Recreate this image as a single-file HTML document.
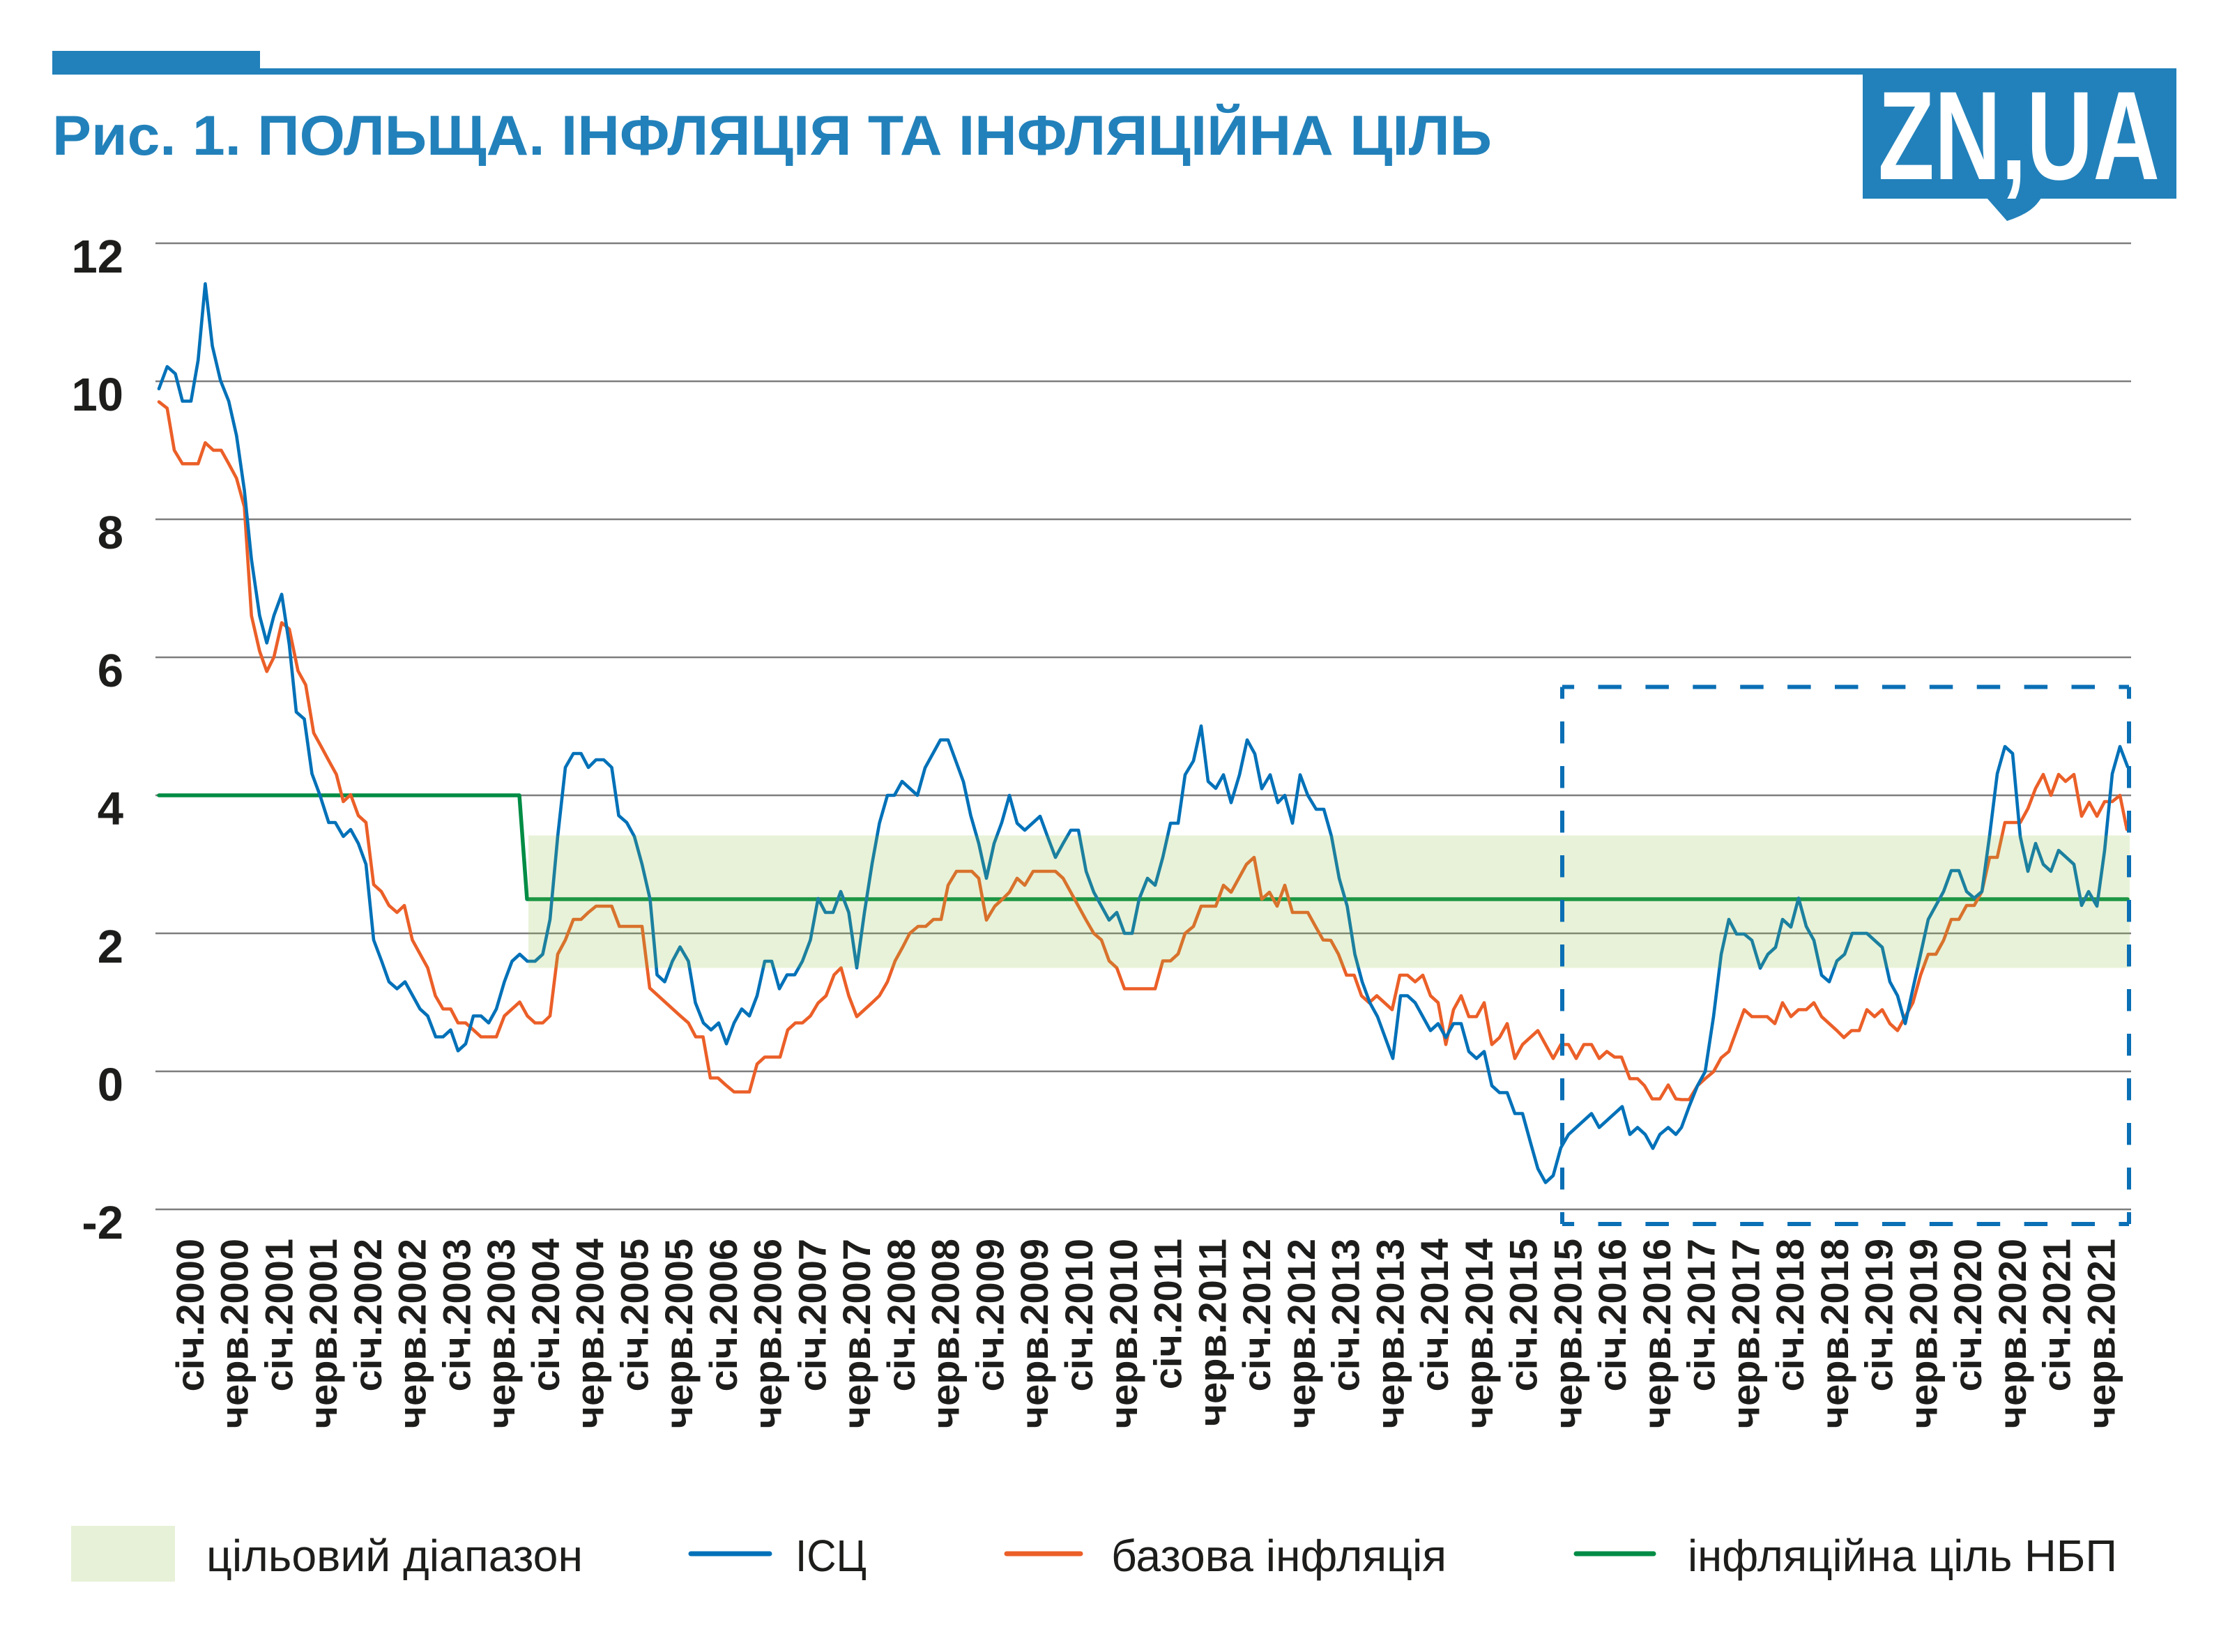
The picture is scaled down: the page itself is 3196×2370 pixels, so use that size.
<!DOCTYPE html>
<html><head><meta charset="utf-8"><style>
html,body{margin:0;padding:0;background:#fff;}
svg{display:block;}
</style></head><body>
<svg width="3196" height="2370" viewBox="0 0 3196 2370" xmlns="http://www.w3.org/2000/svg">
<rect x="0" y="0" width="3196" height="2370" fill="#ffffff"/>
<!-- header bar -->
<rect x="75" y="73" width="298" height="34" fill="#2281ba"/>
<rect x="373" y="98" width="2749" height="9" fill="#2281ba"/>
<!-- logo -->
<rect x="2672" y="98" width="450" height="187" fill="#2281ba"/>
<path d="M2850,284 L2879,317 C2905,308 2918,300 2928,284 Z" fill="#2281ba"/>
<text x="2694" y="257" font-family="Liberation Sans, sans-serif" font-weight="bold" font-size="181" fill="#ffffff" textLength="404" lengthAdjust="spacingAndGlyphs">ZN,UA</text>
<!-- title -->
<text x="75" y="222" font-family="Liberation Sans, 'Noto Sans CJK SC', sans-serif" font-weight="bold" font-size="81" fill="#2281ba" textLength="2065" lengthAdjust="spacingAndGlyphs">Рис. 1. ПОЛЬЩА. ІНФЛЯЦІЯ ТА ІНФЛЯЦІЙНА ЦІЛЬ</text>

<!-- gridlines -->
<g stroke="#7d7d7d" stroke-width="2.5">
<line x1="223" y1="349" x2="3057" y2="349"/>
<line x1="223" y1="547" x2="3057" y2="547"/>
<line x1="223" y1="745" x2="3057" y2="745"/>
<line x1="223" y1="943" x2="3057" y2="943"/>
<line x1="223" y1="1141" x2="3057" y2="1141"/>
<line x1="223" y1="1339" x2="3057" y2="1339"/>
<line x1="223" y1="1537" x2="3057" y2="1537"/>
<line x1="223" y1="1735" x2="3057" y2="1735"/>
</g>
<!-- y labels -->
<g font-family="Liberation Sans, sans-serif" font-weight="bold" font-size="67" fill="#1d1d1b" text-anchor="end">
<text x="177" y="391">12</text>
<text x="177" y="589">10</text>
<text x="177" y="787">8</text>
<text x="177" y="985">6</text>
<text x="177" y="1183">4</text>
<text x="177" y="1381">2</text>
<text x="177" y="1579">0</text>
<text x="177" y="1777">-2</text>
</g>

<!-- series -->
<g fill="none" stroke-linejoin="round" stroke-linecap="round">
<polyline stroke="#008c45" stroke-width="5.5" points="228,1141 745,1141 756,1290 3052,1290"/>
<polyline stroke="#eb5f28" stroke-width="4.6" points="228,576.5 239.8,585.7 250,645.9 261.7,665.3 274,665.3 284.2,665.3 294.4,635.2 306.1,645.9 317.3,645.9 328.1,665.3 339.3,686.2 350.5,727 360.7,883.2 372.4,934.2 382.7,963.3 392.9,942.9 404.1,893.4 415,902.5 427.5,962.5 438.5,982.5 450,1051.5 461,1071.5 471.5,1091 482.5,1111 492.5,1150 503,1140 514,1170 525,1180 536,1269 547,1279 558,1299 569.5,1309 580,1299 591.5,1348.5 602.5,1368.5 613.5,1388.5 624.5,1428.5 635.5,1447.5 646.5,1447.5 657,1467.5 668,1467.5 679,1477.5 690,1487.5 701,1487.5 712,1487.5 723.5,1457.5 734.5,1447.5 745.5,1437.5 756.5,1457.5 767.5,1467.5 778.5,1467.5 789,1457.5 800,1369 811,1348.5 822.5,1319 833.5,1319 844,1309 855,1300 866,1300 877.5,1300 888.5,1329 899,1329 910,1329 921,1329 932,1417.5 943,1427.5 954,1437.5 965,1447.5 976,1457.5 987.5,1467.5 998,1487.5 1008.5,1487.5 1019,1546.5 1030,1546.5 1041,1556.5 1053,1566.5 1064,1566.5 1075,1566.5 1086,1526.5 1097,1516.5 1108,1516.5 1119,1516.5 1130,1477.5 1141,1467.5 1151,1467.5 1162.5,1457.5 1173.5,1439 1185,1428.5 1196.5,1398.5 1206.5,1388.5 1217.5,1428.5 1229,1458.5 1240,1448.5 1251,1438.5 1261.5,1428.5 1273,1408.5 1284,1378.5 1295,1358.5 1305,1339 1317,1329 1328,1329 1339,1319 1350,1319 1360,1270 1372,1250 1383,1250 1394,1250 1404,1260 1415,1320 1427,1300 1438,1290 1448,1280 1459,1260 1470,1270 1482,1250 1493,1250 1504,1250 1514,1250 1525,1260 1536,1280 1547,1300 1558,1320 1569,1339 1580,1348.5 1591,1378.5 1602,1388.5 1613,1418.5 1624,1418.5 1635,1418.5 1646,1418.5 1657,1418.5 1668,1378.5 1679,1378.5 1690,1368.5 1700,1339 1712,1329 1723,1300 1734,1300 1744,1300 1755,1270 1766,1280 1777,1260 1788,1240 1799,1230 1810,1290 1821,1280 1832,1300 1843,1270 1854,1309 1865,1309 1876,1309 1887,1329 1898,1348.5 1909,1349 1920,1369 1931.5,1399 1942.5,1399 1953,1428.5 1964,1438.5 1975,1428.5 1986,1438.5 1997,1448.5 2008,1399 2019,1399 2030,1408.5 2041,1399 2052,1428.5 2063,1438.5 2074,1498.5 2085,1448.5 2096,1428.5 2107,1458.5 2118,1458.5 2129,1438.5 2140,1498.5 2151,1488.5 2162,1468.5 2173,1518.5 2184,1498.5 2195,1488.5 2206,1478.5 2217,1498.5 2228,1518.5 2239,1498.5 2250,1498.5 2261,1518.5 2272,1498.5 2283,1498.5 2294,1518.5 2305,1508.5 2316,1516.5 2326,1516.5 2338,1547.5 2349,1547.5 2359,1557.5 2370,1576.5 2381,1576.5 2393,1556.5 2404,1576.5 2412,1577.5 2423,1577.5 2435,1557.5 2446,1547.5 2458,1537.5 2469,1517.5 2480,1508.5 2491,1478.5 2502,1448.5 2513,1458.5 2524,1458.5 2535,1458.5 2546,1468.5 2557,1438.5 2569,1458.5 2580,1448.5 2591,1448.5 2602,1438.5 2613,1458.5 2624,1468.5 2635,1478.5 2645,1488.5 2656,1478.5 2667,1478.5 2678,1448.5 2689,1458.5 2700,1448.5 2711,1468.5 2722,1478.5 2733,1458.5 2744,1438.5 2755,1399 2766,1369 2777,1369 2788,1349 2799,1319 2810,1319 2821,1299 2832,1299 2843,1279 2854,1230 2865,1230 2876,1180 2887,1180 2898,1180 2909,1160 2920,1131 2931,1111 2942,1141 2953,1111 2963,1121 2975,1111 2986,1171 2997,1151 3008,1171 3019,1150 3030,1150 3041,1141 3051,1190"/>
<polyline stroke="#0071b8" stroke-width="4.6" points="228,557.7 239.8,526 251.5,536.2 261.7,575.5 274,575.5 284.2,516.8 294.4,407.1 304.6,496.4 316.3,545.9 328.1,575.5 339.3,625 350.5,703 360.7,802.6 372.4,883.2 382.7,922.4 392.9,883.2 404.1,852.6 415,925 425,1021.5 436.5,1031.5 447.5,1110 459,1141 471.5,1180 481,1180 492.5,1200 503,1190 514,1210 525,1240 536,1348.5 547.5,1379 558,1408.5 569.5,1418.5 581,1408.5 591.5,1427.5 602.5,1447.5 613.5,1457.5 625,1487.5 635.5,1487.5 646.5,1477.5 657,1507.5 668,1497.5 679,1457.5 690,1457.5 701,1467.5 712,1447.5 723.5,1408.5 734.5,1379 745.5,1369 756.5,1379 767.5,1379 778.5,1369 789,1319 800,1200 811,1101 822.5,1081 833.5,1081 844,1101 855,1090 866,1090 877.5,1101 887.5,1170 899,1180 910,1200 921,1240 932.5,1290 942.5,1398.5 953.5,1408.5 964.5,1379 975.5,1358.5 987.5,1379 997.5,1438.5 1009,1467.5 1020,1477.5 1031,1467.5 1042,1497.5 1053,1467.5 1064,1447.5 1075,1457.5 1086,1428.5 1097,1379 1107,1379 1118,1418.5 1129,1398.5 1140,1398.5 1151,1379 1162.5,1348.5 1173.5,1289 1184,1309 1195,1309 1206,1279 1217.5,1309 1229,1388.5 1240,1309 1251,1239 1261.5,1181 1273,1141 1283,1141 1294,1121 1305,1131 1316,1141 1327,1101.5 1338,1081.5 1349,1061.5 1360,1061.5 1371,1091.5 1382,1121.5 1392.5,1170 1404,1210 1415,1260 1426,1210 1437,1180 1448,1141 1459,1181 1470,1191 1481,1181 1492,1171 1503,1201 1514,1230 1525,1210 1536,1191 1547,1191 1558,1250 1569,1280 1580,1300 1591,1320 1602,1309 1613,1339 1624,1339 1634,1290 1646,1260 1657,1270 1668,1230 1679,1181 1690,1181 1700,1111.5 1712,1091.5 1723,1041.5 1733,1121 1744,1131 1755,1111.5 1766,1151.5 1778,1111.5 1789,1061.5 1800,1081.5 1810,1131.5 1822,1111.5 1833,1151.5 1843,1141 1854,1181 1865,1111.5 1876,1141 1888,1161 1899,1161 1910,1200 1921,1260 1932.5,1300 1943.5,1369 1954,1408.5 1965,1438.5 1976,1458.5 1987,1488.5 1998,1518.5 2009,1428.5 2019,1428.5 2030,1438.5 2041,1458.5 2052,1478.5 2063,1468.5 2074,1488.5 2085,1468.5 2096,1468.5 2107,1508.5 2118,1518.5 2129,1508.5 2140,1557.5 2151,1567.5 2162,1567.5 2173,1597.5 2184,1597.5 2195,1637.5 2206,1676.5 2217,1696.5 2228,1686.5 2239,1646.5 2250,1627.5 2261,1617.5 2272,1607.5 2283,1597.5 2294,1617.5 2305,1607.5 2316,1597.5 2327,1587.5 2338,1627.5 2349,1617.5 2360,1627.5 2371,1647.5 2381,1627.5 2393,1617.5 2404,1627.5 2412,1617.5 2423,1587.5 2435,1557.5 2446,1537.5 2458,1458.5 2469,1369 2480,1319 2491,1340 2502,1340 2513,1349 2525,1389 2536,1369 2547,1359 2557,1319 2569,1330 2580,1288.5 2591,1329 2602,1349 2613,1399 2624,1408.5 2635,1378.5 2646,1369 2657,1339 2668,1339 2678,1339 2689,1349 2700,1359 2711,1408.5 2722,1428.5 2733,1468.5 2744,1418.5 2755,1369 2766,1319 2777,1299 2788,1279 2799,1249 2810,1249 2821,1279 2832,1288.5 2843,1279 2854,1199 2865,1110 2876,1071 2887,1081 2898,1200 2909,1250 2920,1210 2931,1240 2942,1250 2953,1220 2964,1230 2975,1240 2986,1299 2996,1279 3008,1300 3019,1220 3030,1110 3041,1071 3052,1100"/>
</g>
<!-- target band (semi-transparent overlay) -->
<rect x="758" y="1198.5" width="2297" height="190" fill="rgb(140,190,60)" fill-opacity="0.2"/>

<!-- dashed box -->
<g stroke="#0a6fb5" stroke-width="6" fill="none">
<line x1="2241" y1="985.5" x2="3054" y2="985.5" stroke-dasharray="33.5 34.4" stroke-dashoffset="16.4"/>
<line x1="2241" y1="1756" x2="3054" y2="1756" stroke-dasharray="33.5 34.4" stroke-dashoffset="16.4"/>
<line x1="2241" y1="985.5" x2="2241" y2="1756" stroke-dasharray="31.5 32.5" stroke-dashoffset="14.5"/>
<line x1="3054" y1="985.5" x2="3054" y2="1756" stroke-dasharray="31.5 32.5" stroke-dashoffset="14.5"/>
</g>

<!-- x labels -->
<g font-family="Liberation Sans, sans-serif" font-weight="bold" font-size="56" fill="#1d1d1b" text-anchor="end">
<text transform="translate(291.8,1777) rotate(-90)">січ.2000</text>
<text transform="translate(355.6,1777) rotate(-90)">черв.2000</text>
<text transform="translate(419.3,1777) rotate(-90)">січ.2001</text>
<text transform="translate(483.1,1777) rotate(-90)">черв.2001</text>
<text transform="translate(546.8,1777) rotate(-90)">січ.2002</text>
<text transform="translate(610.6,1777) rotate(-90)">черв.2002</text>
<text transform="translate(674.4,1777) rotate(-90)">січ.2003</text>
<text transform="translate(738.1,1777) rotate(-90)">черв.2003</text>
<text transform="translate(801.9,1777) rotate(-90)">січ.2004</text>
<text transform="translate(865.6,1777) rotate(-90)">черв.2004</text>
<text transform="translate(929.4,1777) rotate(-90)">січ.2005</text>
<text transform="translate(993.2,1777) rotate(-90)">черв.2005</text>
<text transform="translate(1056.9,1777) rotate(-90)">січ.2006</text>
<text transform="translate(1120.7,1777) rotate(-90)">черв.2006</text>
<text transform="translate(1184.4,1777) rotate(-90)">січ.2007</text>
<text transform="translate(1248.2,1777) rotate(-90)">черв.2007</text>
<text transform="translate(1312.0,1777) rotate(-90)">січ.2008</text>
<text transform="translate(1375.7,1777) rotate(-90)">черв.2008</text>
<text transform="translate(1439.5,1777) rotate(-90)">січ.2009</text>
<text transform="translate(1503.2,1777) rotate(-90)">черв.2009</text>
<text transform="translate(1567.0,1777) rotate(-90)">січ.2010</text>
<text transform="translate(1630.8,1777) rotate(-90)">черв.2010</text>
<text transform="translate(1694.5,1777) rotate(-90)">січ.2011</text>
<text transform="translate(1758.3,1777) rotate(-90)">черв.2011</text>
<text transform="translate(1822.0,1777) rotate(-90)">січ.2012</text>
<text transform="translate(1885.8,1777) rotate(-90)">черв.2012</text>
<text transform="translate(1949.6,1777) rotate(-90)">січ.2013</text>
<text transform="translate(2013.3,1777) rotate(-90)">черв.2013</text>
<text transform="translate(2077.1,1777) rotate(-90)">січ.2014</text>
<text transform="translate(2140.8,1777) rotate(-90)">черв.2014</text>
<text transform="translate(2204.6,1777) rotate(-90)">січ.2015</text>
<text transform="translate(2268.4,1777) rotate(-90)">черв.2015</text>
<text transform="translate(2332.1,1777) rotate(-90)">січ.2016</text>
<text transform="translate(2395.9,1777) rotate(-90)">черв.2016</text>
<text transform="translate(2459.6,1777) rotate(-90)">січ.2017</text>
<text transform="translate(2523.4,1777) rotate(-90)">черв.2017</text>
<text transform="translate(2587.2,1777) rotate(-90)">січ.2018</text>
<text transform="translate(2650.9,1777) rotate(-90)">черв.2018</text>
<text transform="translate(2714.7,1777) rotate(-90)">січ.2019</text>
<text transform="translate(2778.4,1777) rotate(-90)">черв.2019</text>
<text transform="translate(2842.2,1777) rotate(-90)">січ.2020</text>
<text transform="translate(2906.0,1777) rotate(-90)">черв.2020</text>
<text transform="translate(2969.7,1777) rotate(-90)">січ.2021</text>
<text transform="translate(3033.5,1777) rotate(-90)">черв.2021</text>
</g>

<!-- legend -->
<rect x="102" y="2189" width="149" height="80" fill="#e7f1d8"/>
<g stroke-width="7" stroke-linecap="round">
<line x1="991" y1="2229" x2="1104" y2="2229" stroke="#0071b8"/>
<line x1="1444" y1="2229" x2="1550" y2="2229" stroke="#eb5f28"/>
<line x1="2261" y1="2229" x2="2372" y2="2229" stroke="#008c45"/>
</g>
<g font-family="Liberation Sans, sans-serif" font-size="64" fill="#1d1d1b">
<text x="296" y="2254" textLength="540" lengthAdjust="spacingAndGlyphs">цільовий діапазон</text>
<text x="1141" y="2254" textLength="102" lengthAdjust="spacingAndGlyphs">ІСЦ</text>
<text x="1594" y="2254" textLength="481" lengthAdjust="spacingAndGlyphs">базова інфляція</text>
<text x="2421" y="2254" textLength="616" lengthAdjust="spacingAndGlyphs">інфляційна ціль НБП</text>
</g>
</svg>
</body></html>
